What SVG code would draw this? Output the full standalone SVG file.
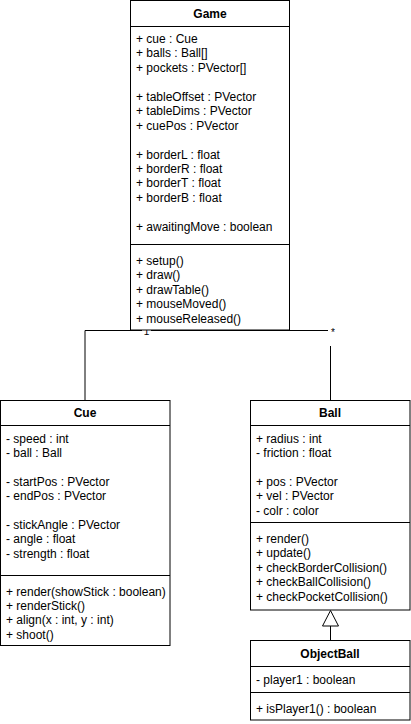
<svg xmlns="http://www.w3.org/2000/svg" width="411" height="724" viewBox="0 0 411 724">
<style>
  .box { fill: #ffffff; stroke: #000000; stroke-width: 1; }
  .ln { stroke: #000000; stroke-width: 1; fill: none; }
  .t { font-family: "Liberation Sans", Arial, sans-serif; font-size: 12px; fill: #000000; }
  .h { font-family: "Liberation Sans", Arial, sans-serif; font-size: 12px; font-weight: bold; fill: #000000; text-anchor: middle; }
  .lbl { font-family: "Liberation Sans", Arial, sans-serif; font-size: 10px; fill: #000000; text-anchor: middle; }
</style>
<rect width="411" height="724" fill="#ffffff"/>
<g id="connectors">
  <path class="ln" d="M85,400 V330.5 H205"/>
  <path class="ln" d="M205,330.5 H328"/>
  <path class="ln" d="M330.5,346 V400"/>
  <rect x="142" y="326" width="9" height="10" fill="#ffffff"/>
  <text class="lbl" x="146.5" y="334.5">1</text>
  <text class="lbl" x="333" y="336">*</text>
  <path class="ln" d="M330.5,626 V640"/>
  <polygon class="box" points="330.5,610.5 338.5,626 322.5,626"/>
</g>
<g id="Game">
  <rect class="box" x="130.5" y="0.5" width="159" height="329.5"/>
  <line class="ln" x1="130.5" y1="26.5" x2="289.5" y2="26.5"/>
  <line class="ln" x1="130.5" y1="244.5" x2="289.5" y2="244.5"/>
  <text class="h" x="210" y="17.5">Game</text>
  <text class="t" x="136" y="43">+ cue : Cue</text>
  <text class="t" x="136" y="57.4">+ balls : Ball[]</text>
  <text class="t" x="136" y="71.8">+ pockets : PVector[]</text>
  <text class="t" x="136" y="101">+ tableOffset : PVector</text>
  <text class="t" x="136" y="115.4">+ tableDims : PVector</text>
  <text class="t" x="136" y="129.8">+ cuePos : PVector</text>
  <text class="t" x="136" y="158.6">+ borderL : float</text>
  <text class="t" x="136" y="173">+ borderR : float</text>
  <text class="t" x="136" y="187.4">+ borderT : float</text>
  <text class="t" x="136" y="201.8">+ borderB : float</text>
  <text class="t" x="136" y="230.6">+ awaitingMove : boolean</text>
  <text class="t" x="136" y="265">+ setup()</text>
  <text class="t" x="136" y="279.4">+ draw()</text>
  <text class="t" x="136" y="293.8">+ drawTable()</text>
  <text class="t" x="136" y="308.2">+ mouseMoved()</text>
  <text class="t" x="136" y="322.6">+ mouseReleased()</text>
</g>
<g id="Cue">
  <rect class="box" x="0.5" y="400.5" width="169.5" height="245"/>
  <line class="ln" x1="0.5" y1="425.5" x2="170" y2="425.5"/>
  <line class="ln" x1="0.5" y1="575.5" x2="170" y2="575.5"/>
  <text class="h" x="85" y="417">Cue</text>
  <text class="t" x="6" y="442.5">- speed : int</text>
  <text class="t" x="6" y="456.9">- ball : Ball</text>
  <text class="t" x="6" y="485.7">- startPos : PVector</text>
  <text class="t" x="6" y="500.1">- endPos : PVector</text>
  <text class="t" x="6" y="528.9">- stickAngle : PVector</text>
  <text class="t" x="6" y="543.3">- angle : float</text>
  <text class="t" x="6" y="557.7">- strength : float</text>
  <text class="t" x="6" y="595.5">+ render(showStick : boolean)</text>
  <text class="t" x="6" y="609.9">+ renderStick()</text>
  <text class="t" x="6" y="624.3">+ align(x : int, y : int)</text>
  <text class="t" x="6" y="638.7">+ shoot()</text>
</g>
<g id="Ball">
  <rect class="box" x="250.5" y="400.5" width="159.5" height="209.5"/>
  <line class="ln" x1="250.5" y1="425.5" x2="410" y2="425.5"/>
  <line class="ln" x1="250.5" y1="522.5" x2="410" y2="522.5"/>
  <text class="h" x="330" y="417">Ball</text>
  <text class="t" x="256" y="442.5">+ radius : int</text>
  <text class="t" x="256" y="456.9">- friction : float</text>
  <text class="t" x="256" y="485.7">+ pos : PVector</text>
  <text class="t" x="256" y="500.1">+ vel : PVector</text>
  <text class="t" x="256" y="514.5">- colr : color</text>
  <text class="t" x="256" y="543">+ render()</text>
  <text class="t" x="256" y="557.4">+ update()</text>
  <text class="t" x="256" y="571.8">+ checkBorderCollision()</text>
  <text class="t" x="256" y="586.2">+ checkBallCollision()</text>
  <text class="t" x="256" y="600.6">+ checkPocketCollision()</text>
</g>
<g id="ObjectBall">
  <rect class="box" x="250.5" y="640.5" width="159.5" height="79.5"/>
  <line class="ln" x1="250.5" y1="666.5" x2="410" y2="666.5"/>
  <line class="ln" x1="250.5" y1="692.5" x2="410" y2="692.5"/>
  <text class="h" x="330" y="657.5">ObjectBall</text>
  <text class="t" x="256" y="684">- player1 : boolean</text>
  <text class="t" x="256" y="713">+ isPlayer1() : boolean</text>
</g>
</svg>
